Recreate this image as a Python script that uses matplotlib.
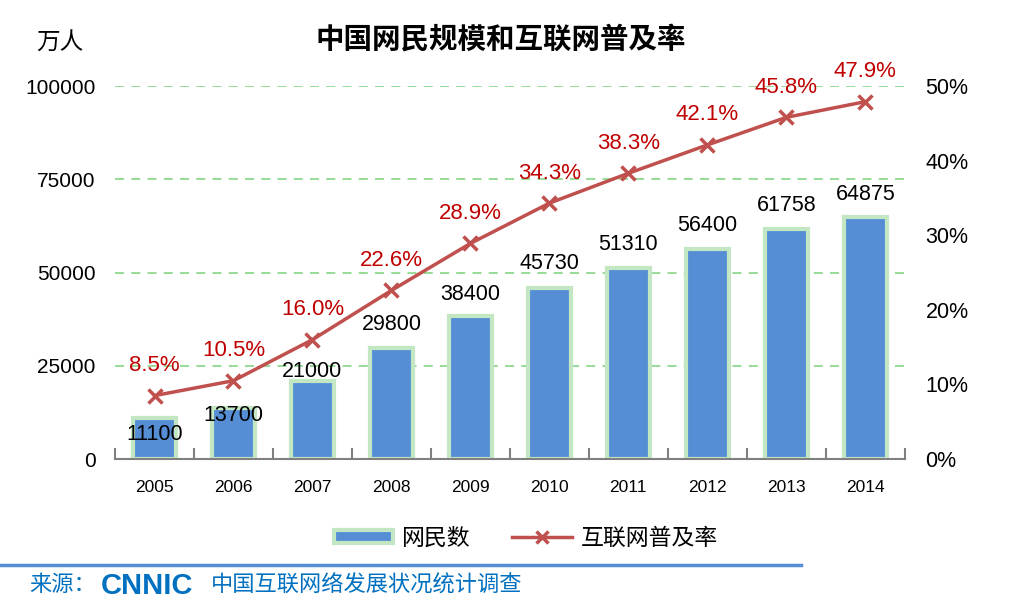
import numpy as np
import matplotlib
matplotlib.use('Agg')
import matplotlib.pyplot as plt
from matplotlib.lines import Line2D
from matplotlib.patches import Patch

plt.rcParams['font.family'] = ['Liberation Sans', 'Noto Sans CJK SC', 'DejaVu Sans']

# data
years = ['2005', '2006', '2007', '2008', '2009', '2010', '2011', '2012', '2013', '2014']
users = [11100, 13700, 21000, 29800, 38400, 45730, 51310, 56400, 61758, 64875]
rate = [8.5, 10.5, 16.0, 22.6, 28.9, 34.3, 38.3, 42.1, 45.8, 47.9]

fig = plt.figure(figsize=(10.27, 6.10), dpi=100)
ax = fig.add_axes([0.112, 0.2475, 0.769, 0.6115])
x = np.arange(len(years))

ax.bar(x, users, width=0.55, color='#558ed5', edgecolor='#c3e6c3', linewidth=3, zorder=2)
ax.set_xlim(-0.5, len(years) - 0.5)
ax.set_ylim(0, 100000)
ax.set_yticks([0, 25000, 50000, 75000, 100000])
ax.set_yticklabels(['0', '25000', '50000', '75000', '100000'], fontsize=15)
for v in [25000, 50000, 75000, 100000]:
    ax.axhline(v, color='#8fd88f', ls=(0, (5, 4)), lw=1.3, zorder=1)

ax.set_xticks(x)
ax.set_xticklabels(years, fontsize=12.5)
ax.tick_params(axis='x', length=0, pad=15)
ax.tick_params(axis='y', length=0, pad=14)
for s in ['top', 'right', 'left']:
    ax.spines[s].set_visible(False)
ax.spines['bottom'].set_color('#808080')
ax.spines['bottom'].set_linewidth(1.5)
# separator ticks on the category axis
for b in np.arange(-0.5, len(years), 1.0):
    ax.plot([b, b], [0, 2800], color='#808080', lw=1.5, clip_on=False, zorder=3)

# bar value labels (first ones sit lower because of the line markers)
offs = [-17, -8, 9, 23, 21, 25, 23, 23, 23, 23]
for i, v in enumerate(users):
    ax.annotate(str(v), (i, v), xytext=(0, offs[i]), textcoords='offset pixels',
                ha='center', va='center', fontsize=15.5, color='black', zorder=5)

ax2 = ax.twinx()
ax2.set_ylim(0, 50)
ax2.plot(x, rate, color='#c0504d', lw=2.5, marker='x', ms=10, mew=2.5, zorder=4)
ax2.set_yticks([0, 10, 20, 30, 40, 50])
ax2.set_yticklabels(['0%', '10%', '20%', '30%', '40%', '50%'], fontsize=15.5)
ax2.tick_params(axis='y', length=0, pad=15)
for s in ['top', 'right', 'left', 'bottom']:
    ax2.spines[s].set_visible(False)
for i, r in enumerate(rate):
    ax2.annotate('%.1f%%' % r, (i, r), xytext=(0, 30), textcoords='offset pixels',
                 ha='center', va='center', fontsize=16, color='#c00000')

fig.text(0.035, 0.93, '万人', fontsize=17, ha='left', va='center')
fig.text(0.488, 0.935, '中国网民规模和互联网普及率', fontsize=20.5, fontweight='bold',
         ha='center', va='center')

handles = [Patch(facecolor='#558ed5', edgecolor='#c3e6c3', linewidth=3, label='网民数'),
           Line2D([0], [0], color='#c0504d', lw=2.5, marker='x', ms=8, mew=2.5, label='互联网普及率')]
fig.legend(handles=handles, loc='center', bbox_to_anchor=(0.512, 0.118), ncol=2, frameon=False,
           fontsize=16.5, handlelength=2.6, handleheight=0.5, columnspacing=1.8, handletextpad=0.4)

fig.add_artist(Line2D([0, 0.78], [0.073, 0.073], color='#558ed5', lw=2.5))
fig.text(0.028, 0.04, '来源：', fontsize=16, color='#0070c0', ha='left', va='center')
fig.text(0.098, 0.04, 'CNNIC', fontsize=21, color='#0070c0', fontweight='bold',
         ha='left', va='center')
fig.text(0.205, 0.04, '中国互联网络发展状况统计调查', fontsize=16, color='#0070c0',
         ha='left', va='center')

fig.savefig('out.png', dpi=100)
